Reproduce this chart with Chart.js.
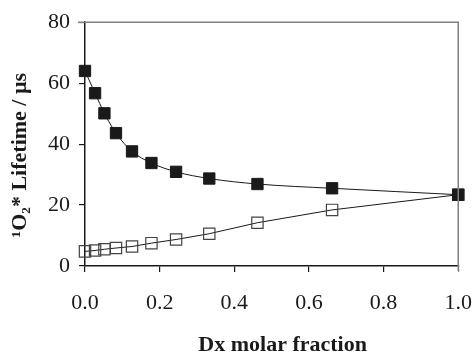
<!DOCTYPE html>
<html>
<head>
<meta charset="utf-8">
<script src="https://cdn.jsdelivr.net/npm/chart.js@4.4.0/dist/chart.umd.min.js"></script>
<style>
  html, body { margin: 0; padding: 0; background: #fff; overflow: hidden; }
  #wrap { width: 472px; height: 354px; overflow: hidden; position: relative; }
  canvas { display: block; }
</style>
</head>
<body>
<div id="wrap"><canvas id="c" width="490" height="354"></canvas></div>
<script>
// Dx molar fraction
const xFraction = [0, 0.027, 0.052, 0.083, 0.126, 0.178, 0.244, 0.333, 0.462, 0.662, 1.0];
// filled squares
const filledLifetime = [64.0, 56.7, 50.1, 43.6, 37.6, 33.8, 30.9, 28.7, 26.9, 25.5, 23.4];
// open squares
const openLifetime = [4.8, 5.1, 5.5, 5.9, 6.4, 7.5, 8.7, 10.6, 14.2, 18.4, 23.4];
const xTicks = [0, 0.2, 0.4, 0.6, 0.8, 1.0];
const yTicks = [0, 20, 40, 60, 80];
const xTitle = '\u2003Dx molar fraction';
const yTitle = '\u00B9O\u2082* Lifetime / \u00B5s\u2003';

const GRAY = '#808080';
const INK = '#1a1a1a';
const serif = '"Liberation Serif", "Times New Roman", serif';

const frame = {
  id: 'frame',
  afterDraw(chart) {
    const ctx = chart.ctx;
    const a = chart.chartArea;
    ctx.save();
    ctx.strokeStyle = GRAY;
    ctx.lineWidth = 1.5;
    ctx.beginPath();
    ctx.moveTo(a.left - 7, a.top);
    ctx.lineTo(a.right, a.top);
    ctx.lineTo(a.right, a.bottom + 5);
    ctx.stroke();
    ctx.restore();
  }
};

new Chart(document.getElementById('c'), {
  type: 'line',
  data: {
    datasets: [
      {
        label: 'filled',
        data: xFraction.map((x, i) => ({ x, y: filledLifetime[i] })),
        borderColor: INK,
        borderWidth: 1,
        cubicInterpolationMode: 'monotone',
        pointStyle: 'rect',
        pointRadius: 8,
        pointBackgroundColor: INK,
        pointBorderColor: INK,
        pointBorderWidth: 1,
        clip: false
      },
      {
        label: 'open',
        data: xFraction.map((x, i) => ({ x, y: openLifetime[i] })),
        borderColor: INK,
        borderWidth: 1,
        tension: 0,
        pointStyle: 'rect',
        pointRadius: 8,
        pointBackgroundColor: 'rgba(255,255,255,0)',
        pointBorderColor: '#444',
        pointBorderWidth: 1.2,
        clip: false
      }
    ]
  },
  options: {
    responsive: false,
    animation: false,
    events: [],
    layout: { padding: { top: 21, right: 30, left: 0, bottom: 0 } },
    plugins: { legend: { display: false }, tooltip: { enabled: false } },
    scales: {
      x: {
        type: 'linear',
        min: 0, max: 1,
        afterBuildTicks: s => { s.ticks = xTicks.map(v => ({ value: v })); },
        afterFit: s => { s.height = 88; },
        ticks: {
          callback: v => Number(v).toFixed(1),
          font: { family: serif, size: 22 },
          color: INK,
          padding: 18,
          maxRotation: 0,
          autoSkip: false
        },
        grid: {
          display: true, drawOnChartArea: false, drawTicks: true, tickLength: 6,
          color: c => (c.tick && c.tick.value === 1 ? GRAY : INK), lineWidth: 1.2
        },
        border: { display: true, color: INK, width: 1.5 },
        title: {
          display: true, text: xTitle, color: INK,
          font: { family: serif, size: 22, weight: 'bold', lineHeight: 1.2 },
          padding: { top: 0, bottom: -5 }
        }
      },
      y: {
        type: 'linear',
        min: 0, max: 80,
        afterBuildTicks: s => { s.ticks = yTicks.map(v => ({ value: v })); },
        afterFit: s => { s.width = 85; },
        ticks: {
          font: { family: serif, size: 22 },
          color: INK,
          padding: 9
        },
        grid: {
          display: true, drawOnChartArea: false, drawTicks: true, tickLength: 6,
          color: c => (c.tick && c.tick.value === 80 ? GRAY : INK), lineWidth: 1.2
        },
        border: { display: true, color: INK, width: 1.5 },
        title: {
          display: true, text: yTitle, color: INK,
          font: { family: serif, size: 22, weight: 'bold', lineHeight: 1.2 },
          padding: { top: 7, bottom: 0 }
        }
      }
    }
  },
  plugins: [frame]
});
</script>
</body>
</html>
